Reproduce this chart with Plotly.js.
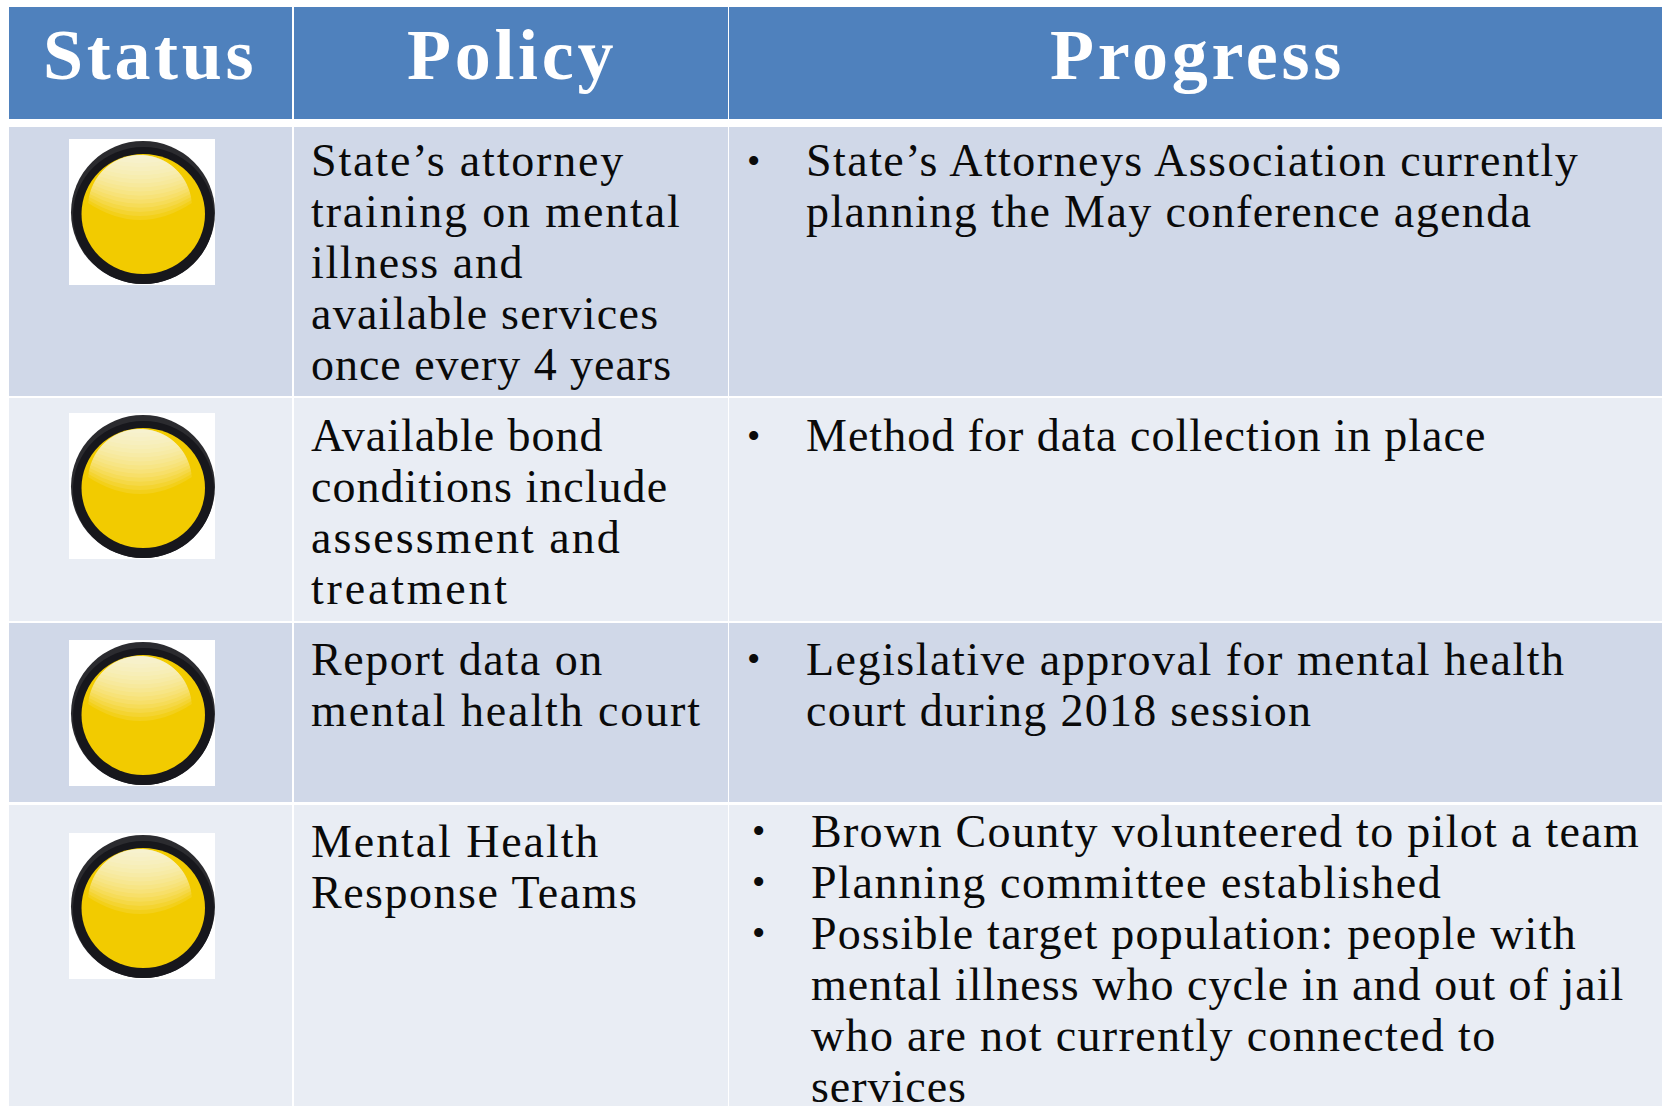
<!DOCTYPE html>
<html><head><meta charset="utf-8">
<script src="https://cdn.plot.ly/plotly-3.0.1.min.js"></script>
<style>
html,body{margin:0;padding:0;background:#fff;overflow:hidden}
#chart{width:1667px;height:1106px}
</style></head><body><div id="chart"></div>
<script>
// Table content
const headers = ["Status", "Policy", "Progress"];
const policyLines = [
  ["State’s attorney", "training on mental", "illness and", "available services", "once every 4 years"],
  ["Available bond", "conditions include", "assessment and", "treatment"],
  ["Report data on", "mental health court"],
  ["Mental Health", "Response Teams"]
];
const progressLines = [
  ["State’s Attorneys Association currently", "planning the May conference agenda"],
  ["Method for data collection in place"],
  ["Legislative approval for mental health", "court during 2018 session"],
  ["Brown County volunteered to pilot a team", "Planning committee established",
   "Possible target population: people with", "mental illness who cycle in and out of jail",
   "who are not currently connected to", "services"]
];
const progressBullets = [[1,0],[1],[1,0],[1,1,1,0,0,0]];
const statusColor = ["#F2CB00", "#F2CB00", "#F2CB00", "#F2CB00"];

// Letter spacing per line, fitted to the reference's line widths
const policyTrack = [[1.83,1.85,1.6,1.26,0.97],[0.97,1.03,2.03,2.8],[1.58,1.89],[1.91,1.5]];
const progressTrack = [[1.45,1.38],[1.01],[1.5,1.29],[1.31,1.54,1.25,1.03,1.34,0.97]];

// Layout geometry (page pixels)
const colEdges = [[9,292],[294,728],[729,1662]];
const headEdge = [7,119];
const rowEdges = [[127,396],[398,621],[623,802],[805,1106]];
const rowFill = ["#D0D8E8","#E9EDF4","#D0D8E8","#E9EDF4"];
const lampTop = [139,413,640,833];
const policyFirst = [160.5,435.5,659,841];
const progressFirst = [160.5,435.5,659,831];
const bulletX = [753,753,753,758];
const textX = [806,806,806,811];
const LH = 51.1;

const shapes = [], annotations = [];
const rect = (x0,x1,y0,y1,c)=>shapes.push({type:'rect',xref:'x',yref:'y',x0,x1,y0,y1,fillcolor:c,line:{width:0},layer:'above'});
const circ = (x0,x1,y0,y1,c)=>shapes.push({type:'circle',xref:'x',yref:'y',x0,x1,y0,y1,fillcolor:c,line:{width:0},layer:'above'});
const txt = (x,y,t,size,color,anchor,bold,ls)=>annotations.push({xref:'x',yref:'y',x,y,
  text:'<span style="letter-spacing:'+ls+'px">'+(bold?'<b>'+t+'</b>':t)+'</span>',showarrow:false,
  xanchor:anchor,yanchor:'middle',align:anchor,borderpad:0,borderwidth:0,font:{family:'"Liberation Serif",serif',size,color}});

colEdges.forEach(c=>{
  rect(c[0],c[1],headEdge[0],headEdge[1],'#4F81BD');
  rowEdges.forEach((r,j)=>rect(c[0],c[1],r[0],r[1],rowFill[j]));
});
const headCenters=[150,512,1197];
headers.forEach((h,i)=>txt(headCenters[i],55,h,72,'#ffffff','center',true,3.7));

// Glossy highlight of a lamp: stacked translucent slices of a circle, brightest at the top.
function gloss(top){
  const cx=140, r=52, cy=top+68, layers=16;
  for(let k=1;k<=layers;k++){
    const yc=top+16+(48*k/layers);
    const w=Math.sqrt(r*r-(yc-cy)*(yc-cy));
    const sag=17*k/layers;
    const a0=Math.atan2(yc-cy,-w), a1=Math.atan2(yc-cy,w);
    let p='M'+(cx-w)+' '+yc;
    const start=a0<0?a0:a0-2*Math.PI;
    for(let i=1;i<=30;i++){
      const a=start+(a1-start)*i/30;
      p+=' L'+(cx+r*Math.cos(a))+' '+(cy+r*Math.sin(a));
    }
    p+=' Q'+cx+' '+(yc+2*sag)+' '+(cx-w)+' '+yc+' Z';
    shapes.push({type:'path',xref:'x',yref:'y',path:p,fillcolor:'#ffffff',opacity:0.1,line:{width:0},layer:'above'});
  }
}
lampTop.forEach((top,j)=>{
  rect(69,215,top,top+146,'#ffffff');
  circ(71,215,top+2,top+145,'#2b2b2f');
  circ(73,214,top+8,top+145,'#17171c');
  circ(81.5,205,top+15,top+135,statusColor[j]);
  gloss(top);
});

policyLines.forEach((lines,j)=>lines.forEach((t,i)=>txt(310.5,policyFirst[j]+i*LH,t,46,'#0a0a0a','left',false,policyTrack[j][i])));
progressLines.forEach((lines,j)=>lines.forEach((t,i)=>{
  const y=progressFirst[j]+i*LH;
  if(progressBullets[j][i]) txt(bulletX[j],y,'•',38,'#0a0a0a','center',false,0);
  txt(textX[j],y,t,46,'#0a0a0a','left',false,progressTrack[j][i]);
}));

Plotly.newPlot('chart',[{type:'scatter',x:[0,1667],y:[0,1106],mode:'none',hoverinfo:'skip',showlegend:false}],{
  width:1667,height:1106,margin:{l:0,r:0,t:0,b:0,pad:0},
  paper_bgcolor:'#fff',plot_bgcolor:'#fff',showlegend:false,
  xaxis:{range:[0,1667],visible:false,fixedrange:true},
  yaxis:{range:[1106,0],visible:false,fixedrange:true},
  shapes,annotations
},{displayModeBar:false,staticPlot:true});
</script></body></html>
